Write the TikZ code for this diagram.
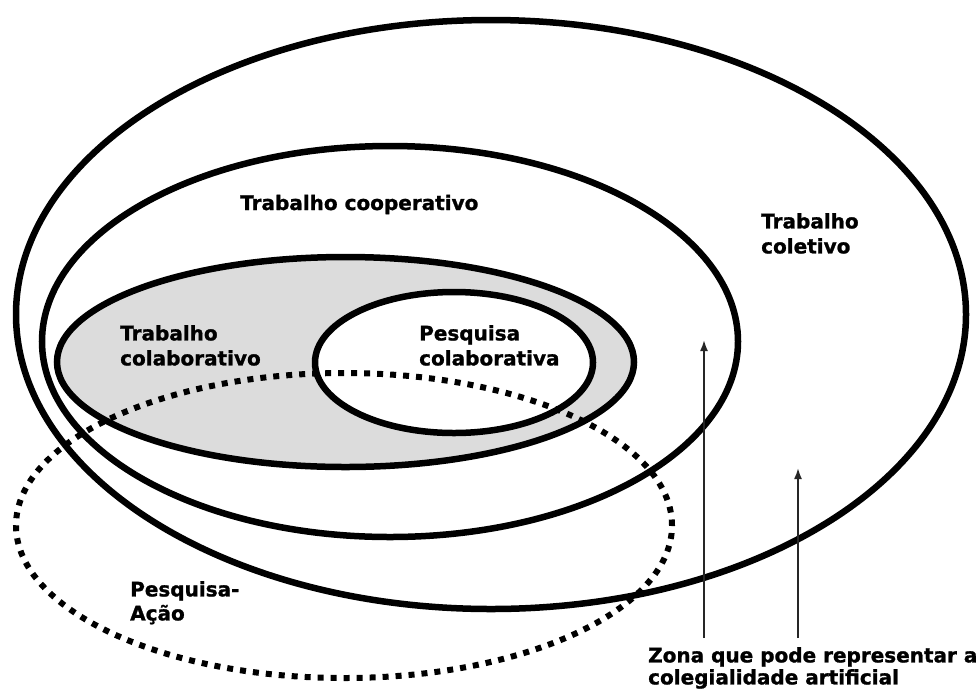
\documentclass[tikz,border=0pt]{standalone}
\usepackage{fontspec}
\setmainfont{DejaVu Sans}[BoldFeatures={FakeBold=1.2}]
\usepackage{tikz}
\usetikzlibrary{arrows.meta}

\definecolor{colabgray}{RGB}{220,220,220}

\tikzset{
  ring/.style={line width=6.5pt},
  dotring/.style={line width=6pt,dash pattern=on 6pt off 7pt},
  label/.style={anchor=north west,inner sep=0pt,align=left,
    font=\bfseries\fontsize{20}{25}\selectfont},
  pointer/.style={line width=1.8pt,black!85,-{Latex[length=11pt,width=8pt]}}
}

\begin{document}
\begin{tikzpicture}[x=1pt,y=-1pt,>=Latex]
  \useasboundingbox (0,0) rectangle (979,689);
  \draw[ring] (491,314.5) ellipse [x radius=475pt,y radius=294.5pt];
  \draw[ring] (390,341.5) ellipse [x radius=348pt,y radius=195.5pt];
  \draw[ring,fill=colabgray] (345.5,362) ellipse [x radius=288.5pt,y radius=105pt];
  \draw[ring,fill=white] (454,362.5) ellipse [x radius=139pt,y radius=70.5pt];
  \draw[dotring] (344,525.5) ellipse [x radius=328pt,y radius=152.5pt];

  \node[label,anchor=base west] (cooperativo) at (240,210) {Trabalho cooperativo};
  \node[label] (coletivo) at (761,213) {Trabalho\\coletivo};
  \node[label] (colab) at (120,325) {Trabalho\\colaborativo};
  \node[label] (pcolab) at (419,325) {Pesquisa\\colaborativa};
  \node[label,font=\bfseries\fontsize{20}{24}\selectfont] (pacao) at (130,581) {Pesquisa-\\Ação};
  \node[label,font=\bfseries\fontsize{20}{22}\selectfont] (zona) at (648,647)
    {Zona que pode representar a\\colegialidade artificial};

  \coordinate (footA) at (704,638);
  \coordinate (tipA) at (704,340);
  \coordinate (footB) at (798,638);
  \coordinate (tipB) at (798,468);
  \draw[pointer] (footA) -- (tipA);
  \draw[pointer] (footB) -- (tipB);
\end{tikzpicture}
\end{document}
